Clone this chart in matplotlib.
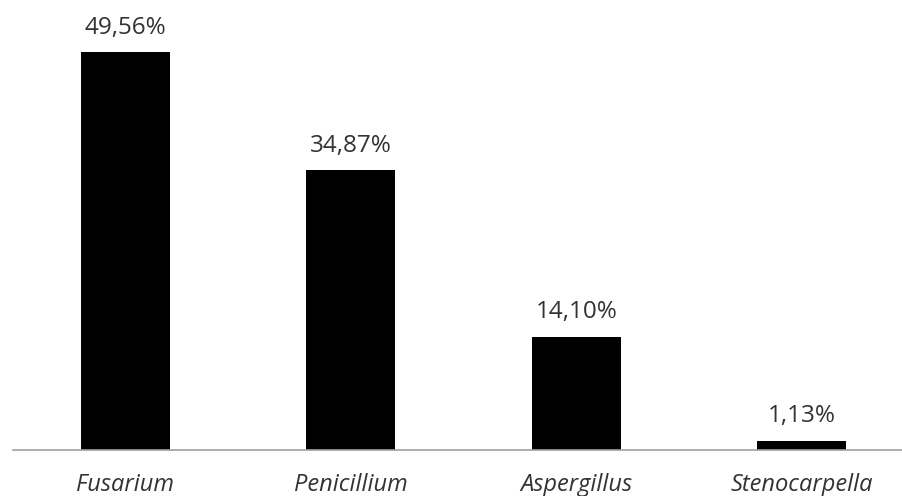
import matplotlib
matplotlib.use("Agg")
import matplotlib.pyplot as plt

genera = ["Fusarium", "Penicillium", "Aspergillus", "Stenocarpella"]
percent = [49.56, 34.87, 14.10, 1.13]
labels = ["49,56%", "34,87%", "14,10%", "1,13%"]

W, H = 902, 496
fig = plt.figure(figsize=(W / 100, H / 100), dpi=100)
ax = fig.add_axes([12.5 / W, 46.3 / H, 902 / W, 449.7 / H])

x = list(range(len(genera)))
ax.bar(x, percent, width=0.396, color="black")

for xi, v, lab in zip(x, percent, labels):
    ax.annotate(lab, (xi, v), xytext=(0, 18.5), textcoords="offset pixels",
                ha="center", va="baseline", fontsize=17.5, color="#333333",
                family="Open Sans")

ax.set_xlim(-0.5, 3.5)
ax.set_ylim(0, 56.1)
ax.set_yticks([])
ax.set_xticks(x)
ax.set_xticklabels(genera, fontstyle="italic", fontsize=17, color="#333333",
                   family="Open Sans")
ax.tick_params(axis="x", length=0, pad=17)
for side in ("top", "right", "left"):
    ax.spines[side].set_visible(False)
ax.spines["bottom"].set_color("#a0a0a0")
ax.spines["bottom"].set_linewidth(1.2)

fig.savefig("out.png", dpi=100)
